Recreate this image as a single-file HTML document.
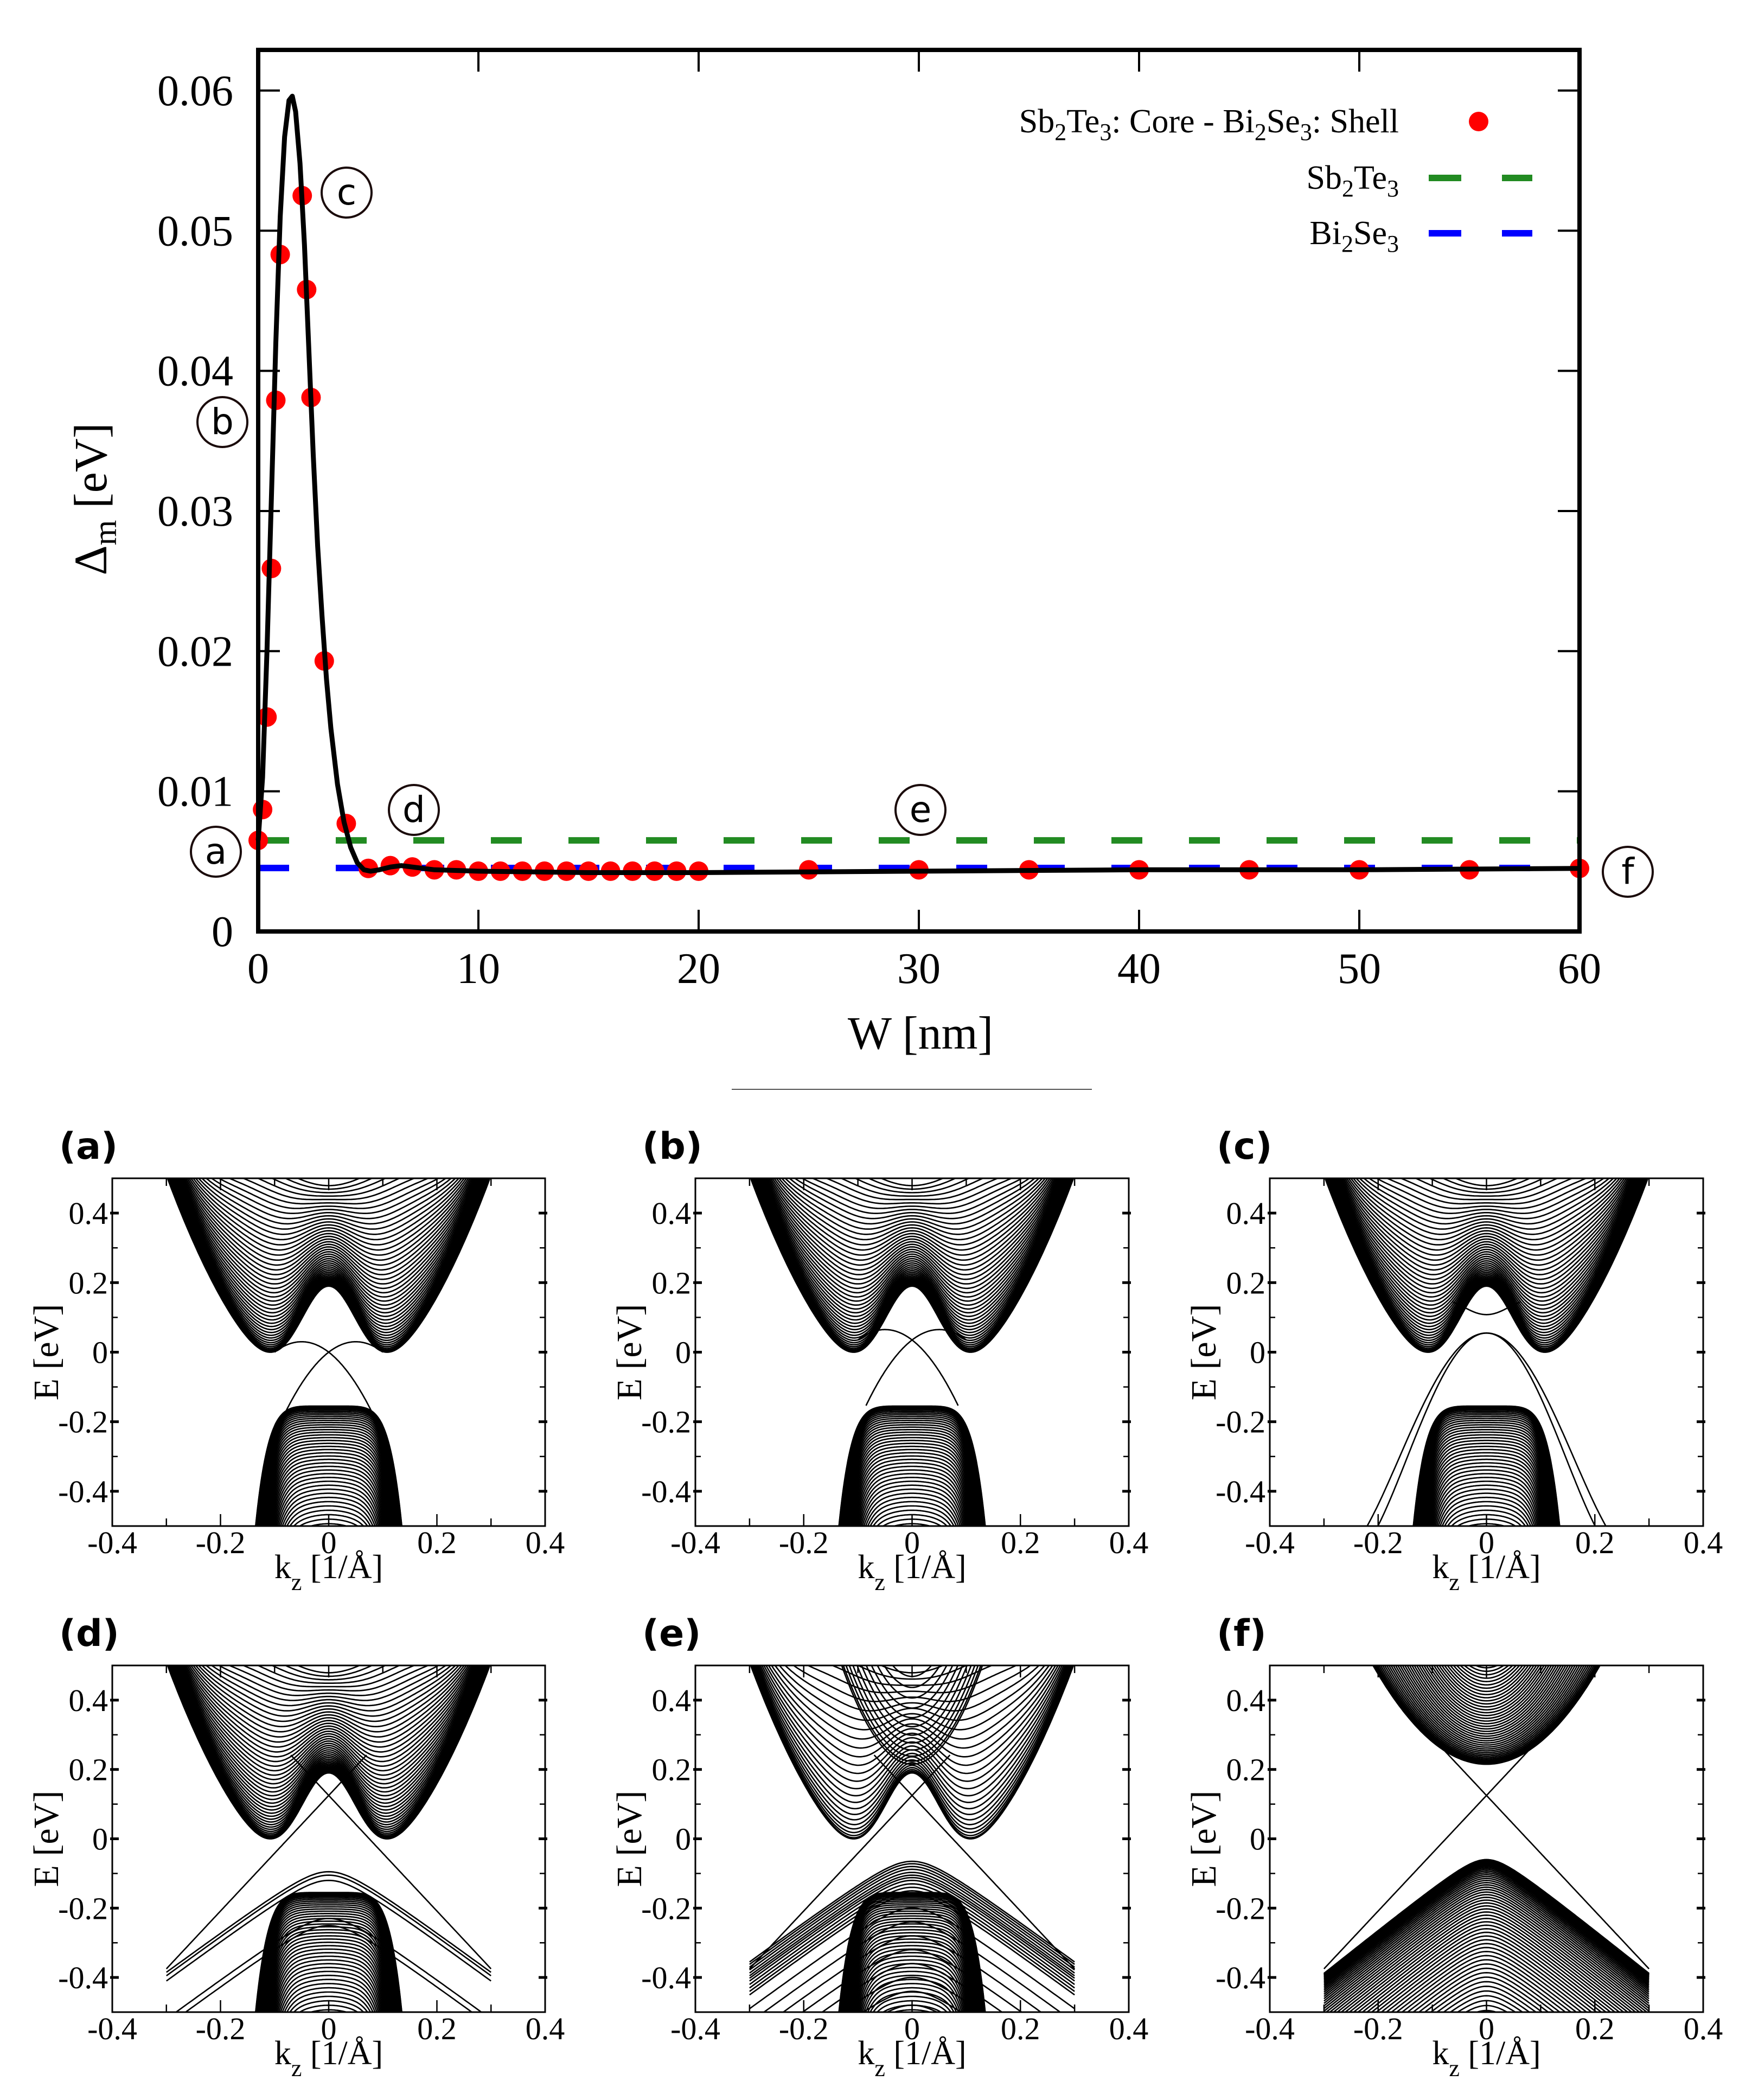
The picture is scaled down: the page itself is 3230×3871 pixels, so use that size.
<!DOCTYPE html>
<html><head><meta charset="utf-8"><title>Delta_m vs W and band structures</title>
<style>
html,body{margin:0;padding:0;background:#fff;}
svg{display:block;}
text{font-family:"Liberation Serif",serif;}
</style></head>
<body>
<svg id="fig" xmlns="http://www.w3.org/2000/svg" width="3230" height="3871" viewBox="0 0 3230 3871">
<rect x="0" y="0" width="3230" height="3871" fill="#fff"/>
</svg>
<script>
// ===== Top chart data =====
const pointW = [0,0.2,0.4,0.6,0.8,1.0,2.0,2.2,2.4,3,4,5,6,7,8,9,10,11,12,13,14,15,16,17,18,19,20,25,30,35,40,45,50,55,60];
const pointD = [0.0065,0.0087,0.0153,0.0259,0.0379,0.0483,0.0525,0.0458,0.0381,0.0193,0.0077,0.0045,0.0047,0.0046,0.0044,0.0044,0.0043,0.0043,0.0043,0.0043,0.0043,0.0043,0.0043,0.0043,0.0043,0.0043,0.0043,0.0044,0.0044,0.0044,0.0044,0.0044,0.0044,0.0044,0.0045];
const curveW = [0,0.2,0.4,0.6,0.8,1.0,1.2,1.4,1.55,1.7,1.9,2.1,2.3,2.5,2.7,2.9,3.1,3.3,3.6,3.9,4.2,4.5,4.8,5.1,5.5,6,6.5,7,8,10,15,20,30,40,50,60];
const curveD = [0.0065,0.011,0.020,0.031,0.042,0.051,0.0567,0.0593,0.0596,0.0585,0.0548,0.049,0.0415,0.034,0.0275,0.0225,0.018,0.0145,0.0105,0.0078,0.006,0.0049,0.0044,0.0043,0.0044,0.0046,0.0047,0.0046,0.0044,0.0043,0.0042,0.0042,0.0043,0.0044,0.0044,0.0045];
const sb2te3Level = [0.0065];
const bi2se3Level = [0.00453];
const xTicks = [0,10,20,30,40,50,60];
const yTicks = [0,0.01,0.02,0.03,0.04,0.05,0.06];
const yTickLabels = ["0","0.01","0.02","0.03","0.04","0.05","0.06"];
const markerLabels = ["a","b","c","d","e","f"];

// ===== Band panel parameters =====
const panelIds = ["a","b","c","d","e","f"];
const kTicks = [-0.4,-0.2,0,0.2,0.4];
const kTickLabels = ["-0.4","-0.2","0","0.2","0.4"];
const eTicks = [-0.4,-0.2,0,0.2,0.4];
const eTickLabels = ["-0.4","-0.2","0","0.2","0.4"];
const diracEnergyAB = [0.0,0.035];
const domeTopsD = [-0.095,-0.105,-0.12,-0.23,-0.25];
const domeTopsE = [-0.065,-0.072,-0.08,-0.088,-0.097,-0.105,-0.112,-0.12,-0.13,-0.14,-0.15,-0.16,-0.2,-0.24,-0.28,-0.32,-0.36,-0.4,-0.44,-0.48];
const crossingEnergy = [0.125,0.125,0.125];

const NS = "http://www.w3.org/2000/svg";
const svg = document.getElementById("fig");
function mk(tag, attrs, parent){
  const e = document.createElementNS(NS, tag);
  for (const k in attrs) e.setAttribute(k, attrs[k]);
  (parent||svg).appendChild(e);
  return e;
}

// ===== Top chart =====
const X0=476, X1=2912, Y0=92, Y1=1717, YMAX=0.0629;
const xs = w => X0 + w/60*(X1-X0);
const ys = d => Y1 - d/YMAX*(Y1-Y0);
const topG = mk("g",{});



const gLine = mk("line",{x1:X0,x2:X1,y1:ys(sb2te3Level[0]),y2:ys(sb2te3Level[0]),stroke:"#228b22","stroke-width":12,"stroke-dasharray":"57 86"},topG);


const bLine = mk("line",{x1:X0,x2:X1,y1:ys(bi2se3Level[0]),y2:ys(bi2se3Level[0]),stroke:"#0000ff","stroke-width":12,"stroke-dasharray":"57 86"},topG);



pointW.forEach((w,i)=>{
  const c = mk("circle",{cx:xs(w),cy:ys(pointD[i]),r:18,fill:"#ff0000"},topG);
  
  
});
let dstr = curveW.map((w,i)=>(i?"L":"M")+xs(w).toFixed(1)+","+ys(curveD[i]).toFixed(1)).join(" ");
const fit = mk("path",{d:dstr,fill:"none",stroke:"#000","stroke-width":9,"stroke-linejoin":"round"},topG);



const frame = mk("rect",{x:X0,y:Y0,width:X1-X0,height:Y1-Y0,fill:"none",stroke:"#000","stroke-width":8},topG);


xTicks.forEach(v=>{
  const x = xs(v);
  if (v>0 && v<60){
    mk("line",{x1:x,x2:x,y1:Y1,y2:Y1-40,stroke:"#000","stroke-width":4},topG);
    mk("line",{x1:x,x2:x,y1:Y0,y2:Y0+40,stroke:"#000","stroke-width":4},topG);
  }
  const t = mk("text",{x:x,y:1812,"font-size":80,"text-anchor":"middle"},topG);
  t.textContent = String(v);
  
  
});
yTicks.forEach((v,i)=>{
  const y = ys(v);
  if (v>0){
    mk("line",{x1:X0,x2:X0+40,y1:y,y2:y,stroke:"#000","stroke-width":4},topG);
    mk("line",{x1:X1,x2:X1-40,y1:y,y2:y,stroke:"#000","stroke-width":4},topG);
  }
  const t = mk("text",{x:430,y:y+27,"font-size":80,"text-anchor":"end"},topG);
  t.textContent = yTickLabels[i];
  
  
});
const xt = mk("text",{x:1697,y:1933,"font-size":86,"text-anchor":"middle"},topG);
xt.textContent = "W [nm]";


const yt = mk("text",{x:0,y:0,"font-size":86,"text-anchor":"middle",transform:"translate(196,920) rotate(-90)"},topG);


yt.innerHTML = 'Δ<tspan font-size="60" dy="18">m</tspan><tspan dy="-18"> [eV]</tspan>';

function legendText(y, html, name){
  const t = mk("text",{x:2579,y:y+20,"font-size":62,"text-anchor":"end"},topG);
  t.innerHTML = html;
  
  
}
const sub = s => '<tspan font-size="44" dy="14">'+s+'</tspan><tspan dy="-14">';
legendText(224,'Sb'+sub('2')+'Te</tspan>'+sub('3')+': Core - Bi</tspan>'+sub('2')+'Se</tspan>'+sub('3')+': Shell</tspan>','legend-core-shell-label');
const ld = mk("circle",{cx:2726,cy:224,r:18,fill:"#ff0000"},topG);


legendText(328,'Sb'+sub('2')+'Te</tspan>'+sub('3')+'</tspan>','legend-sb2te3-label');
const l1 = mk("line",{x1:2634,x2:2825,y1:328,y2:328,stroke:"#228b22","stroke-width":12,"stroke-dasharray":"60 75"},topG);


legendText(430,'Bi'+sub('2')+'Se</tspan>'+sub('3')+'</tspan>','legend-bi2se3-label');
const l2 = mk("line",{x1:2634,x2:2825,y1:430,y2:430,stroke:"#0000ff","stroke-width":12,"stroke-dasharray":"60 75"},topG);



const markerPos = [[398,1570],[410,778],[639,355],[763,1493],[1697,1493],[3001,1607]];
markerLabels.forEach((m,i)=>{
  const g = mk("g",{},topG);
  
  
  mk("circle",{cx:markerPos[i][0],cy:markerPos[i][1],r:46,fill:"none",stroke:"#1a0a0a","stroke-width":4},g);
  const t = mk("text",{x:markerPos[i][0],y:markerPos[i][1]+22,"font-size":66,"text-anchor":"middle"},g);
  t.setAttribute("style","font-family:'DejaVu Sans',sans-serif");
  t.textContent = m;
});

const sep = mk("line",{x1:1349,x2:2013,y1:2008,y2:2008,stroke:"#555","stroke-width":2});



// ===== Band panels =====
const colX = [[207,1005],[1282,2081],[2341,3140]];
const rowY = [[2172,2813],[3070,3709]];

function panel(idx){
  const id = panelIds[idx];
  const [px0,px1] = colX[idx%3];
  const [py0,py1] = rowY[Math.floor(idx/3)];
  const kx = k => px0 + (k+0.4)/0.8*(px1-px0);
  const ey = E => py0 + (0.5-E)*(py1-py0);
  const g = mk("g",{});
  
  
  const cp = mk("clipPath",{id:"clip"+id},g);
  mk("rect",{x:px0,y:py0,width:px1-px0,height:py1-py0},cp);
  const bands = mk("g",{"clip-path":"url(#clip"+id+")",fill:"none",stroke:"#000","stroke-width":2.6},g);
  
  
  function curve(fn,k0,k1,steps){
    steps = steps||140;
    let d="";
    for(let i=0;i<=steps;i++){
      const k = k0+(k1-k0)*i/steps;
      let E = fn(k);
      if (E>0.6) E=0.6;
      if (E<-0.6) E=-0.6;
      d += (i?"L":"M")+kx(k).toFixed(1)+","+ey(E).toFixed(1);
    }
    mk("path",{d:d},bands);
  }
  if (id!=="f"){
    const N = id==="e"?26:46;
    for(let n=0;n<N;n++){
      const t = Math.pow(n/(N-1),1.6);
      curve(k=>-0.121+7*k*k+0.311*(1-t)*Math.exp(-k*k/0.005625)+t*0.6/(1+Math.pow(k/0.25,4)),-0.34,0.34,180);
    }
    if (id==="e"){
      for(let n=0;n<14;n++){
        const t = Math.pow(n/13,1.4);
        curve(k=>0.215+t*0.32+(16.9+10*t)*k*k,-0.16,0.16);
      }
    }
    const M = 50;
    for(let n=0;n<M;n++){
      const t = Math.pow(n/(M-1),1.6);
      curve(k=>-0.155-t*0.45-8*t*k*k-57000*Math.pow(k,6)*(1+2*t),-0.16,0.16,200);
    }
  } else {
    for(let n=0;n<46;n++){
      const t = Math.pow(n/45,1.5);
      curve(k=>0.215+t*0.32+(6.5+12*t)*k*k,-0.25,0.25);
    }
    for(let n=0;n<56;n++){
      const t = Math.pow(n/55,1.8);
      curve(k=>-0.06-t*0.45-(Math.sqrt(0.0025+Math.pow(1.25*k,2))-0.05),-0.3,0.3);
    }
  }
  if (id==="a"||id==="b"){
    const ED = diracEnergyAB[idx];
    curve(k=>ED-1.2*k-12*k*k,-0.1,0.085);
    curve(k=>ED+1.2*k-12*k*k,-0.085,0.1);
  }
  if (id==="c"){
    curve(k=>0.108+15*k*k-1500*Math.pow(k,4),-0.062,0.062);
    curve(k=>0.055-20*k*k+154*Math.pow(k,4),-0.2,0.2);
    curve(k=>{const q=k*0.91;return 0.055-20*q*q+154*Math.pow(q,4);},-0.225,0.225);
  }
  if (id==="d"||id==="e"||id==="f"){
    const Ec = crossingEnergy[idx-3];
    curve(k=>Ec+1.667*k,-0.3,id==="f"?0.1:0.07);
    curve(k=>Ec-1.667*k,id==="f"?-0.1:-0.07,0.3);
  }
  if (id==="d"||id==="e"){
    const tops = id==="d"?domeTopsD:domeTopsE;
    tops.forEach(p=>curve(k=>p-(Math.sqrt(0.0036+Math.pow(1.15*k,2))-0.06),-0.3,0.3));
  }
  const fr = mk("rect",{x:px0,y:py0,width:px1-px0,height:py1-py0,fill:"none",stroke:"#000","stroke-width":3},g);
  
  
  [-0.3,-0.2,-0.1,0,0.1,0.2,0.3].forEach(k=>{
    const x = kx(k), L = (Math.abs(Math.round(k*10))%2===0)?22:14;
    mk("line",{x1:x,x2:x,y1:py1,y2:py1-L,stroke:"#000","stroke-width":2.5},g);
    mk("line",{x1:x,x2:x,y1:py0,y2:py0+L,stroke:"#000","stroke-width":2.5},g);
  });
  [-0.3,-0.1,0.1,0.3].forEach(E=>{
    const y=ey(E);
    mk("line",{x1:px0,x2:px0+10,y1:y,y2:y,stroke:"#000","stroke-width":2.5},g);
    mk("line",{x1:px1,x2:px1-10,y1:y,y2:y,stroke:"#000","stroke-width":2.5},g);
  });
  eTicks.forEach((E,i)=>{
    const y=ey(E);
    mk("line",{x1:px0-4,x2:px0+12,y1:y,y2:y,stroke:"#000","stroke-width":5},g);
    mk("line",{x1:px1+4,x2:px1-12,y1:y,y2:y,stroke:"#000","stroke-width":5},g);
    const t = mk("text",{x:px0-8,y:y+20,"font-size":58,"text-anchor":"end"},g);
    t.textContent = eTickLabels[i];
    
    
  });
  kTicks.forEach((k,i)=>{
    const t = mk("text",{x:kx(k),y:py1+50,"font-size":58,"text-anchor":"middle"},g);
    t.textContent = kTickLabels[i];
    
    
  });
  const kl = mk("text",{x:(px0+px1)/2,y:py1+96,"font-size":62,"text-anchor":"middle"},g);
  kl.innerHTML = 'k<tspan font-size="44" dy="22">z</tspan><tspan dy="-22"> [1/Å]</tspan>';
  
  
  const el2 = mk("text",{x:0,y:0,"font-size":66,"text-anchor":"middle",transform:"translate("+(px0-100)+","+((py0+py1)/2)+") rotate(-90)"},g);
  el2.textContent = "E [eV]";
  
  
  const lab = mk("text",{x:px0-98,y:py0-36,"font-size":68,"font-weight":"bold"},g);
  lab.setAttribute("style","font-family:'DejaVu Sans','Liberation Sans',sans-serif");
  lab.textContent = "("+id+")";
  
  
}
for(let i=0;i<6;i++) panel(i);
</script>
</body></html>
